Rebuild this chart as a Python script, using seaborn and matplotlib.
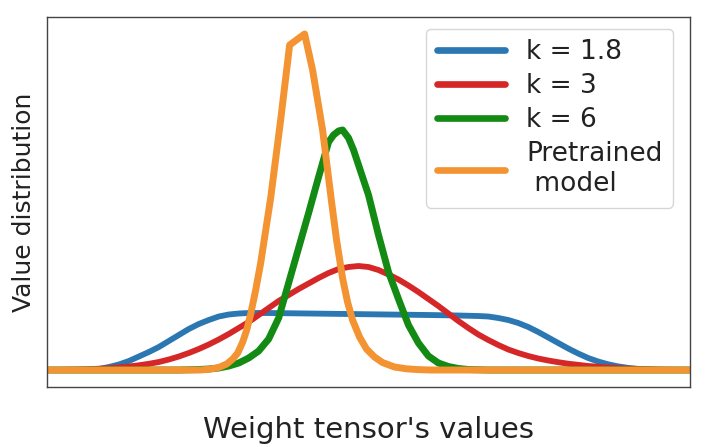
import matplotlib
matplotlib.use("Agg")
import matplotlib.pyplot as plt
import pandas as pd
import seaborn as sns


# Curves (x: weight value, y: distribution, arbitrary units)
k18_x = [-3.22, -2.9, -2.8, -2.7, -2.6, -2.5, -2.4, -2.3, -2.2, -2.1,
         -2.0, -1.9, -1.8, -1.7, -1.6, -1.5, -1.4, -1.3, -1.2, -1.0,
         -0.6, -0.2, 0.2, 0.6, 0.9, 1.1, 1.2, 1.3, 1.4, 1.5,
         1.6, 1.7, 1.8, 1.9, 2.0, 2.1, 2.2, 2.3, 2.4, 2.5,
         2.6, 2.7, 2.8, 2.9, 3.22]
k18_y = [0.00, 0.00, 0.003, 0.01, 0.03, 0.055, 0.09, 0.135, 0.18, 0.23,
         0.29, 0.35, 0.41, 0.46, 0.50, 0.535, 0.555, 0.565, 0.57, 0.57,
         0.565, 0.56, 0.555, 0.55, 0.545, 0.54, 0.535, 0.52, 0.50, 0.47,
         0.43, 0.38, 0.325, 0.27, 0.215, 0.165, 0.12, 0.085, 0.057, 0.036,
         0.021, 0.011, 0.005, 0.001, 0.00]

k3_x = [-3.22, -3.0, -2.8, -2.6, -2.4, -2.3, -2.2, -2.1, -2.0, -1.9,
        -1.8, -1.7, -1.6, -1.5, -1.4, -1.3, -1.2, -1.1, -1.0, -0.9,
        -0.8, -0.7, -0.6, -0.5, -0.4, -0.3, -0.2, -0.1, 0.0, 0.1,
        0.2, 0.3, 0.4, 0.5, 0.6, 0.7, 0.8, 0.9, 1.0, 1.1,
        1.2, 1.3, 1.4, 1.5, 1.6, 1.7, 1.8, 1.9, 2.0, 2.2,
        2.4, 2.6, 2.8, 3.0, 3.22]
k3_y = [0.00, 0.003, 0.008, 0.018, 0.035, 0.047, 0.062, 0.08, 0.105, 0.135,
        0.17, 0.21, 0.255, 0.305, 0.36, 0.42, 0.48, 0.55, 0.62, 0.69,
        0.75, 0.81, 0.865, 0.92, 0.97, 1.01, 1.03, 1.04, 1.03, 1.00,
        0.955, 0.905, 0.845, 0.78, 0.71, 0.64, 0.565, 0.49, 0.42, 0.355,
        0.30, 0.25, 0.205, 0.17, 0.14, 0.115, 0.095, 0.078, 0.063, 0.04,
        0.025, 0.014, 0.007, 0.002, 0.00]

k6_x = [-3.22, -1.9, -1.7, -1.6, -1.5, -1.4, -1.3, -1.2, -1.1, -1.0,
        -0.9, -0.8, -0.7, -0.6, -0.5, -0.4, -0.35, -0.3, -0.26, -0.2,
        -0.15, -0.1, -0.05, 0.0, 0.1, 0.2, 0.3, 0.4, 0.5, 0.6,
        0.7, 0.8, 0.9, 1.0, 1.2, 3.22]
k6_y = [0.00, 0.00, 0.005, 0.01, 0.02, 0.04, 0.07, 0.12, 0.19, 0.31,
        0.52, 0.87, 1.22, 1.57, 1.93, 2.28, 2.35, 2.39, 2.40, 2.32,
        2.20, 2.05, 1.90, 1.75, 1.35, 0.98, 0.71, 0.45, 0.27, 0.14,
        0.07, 0.035, 0.015, 0.005, 0.00, 0.00]

pre_x = [-3.22, -1.80, -1.68, -1.58, -1.50, -1.42, -1.36, -1.31, -1.26, -1.22,
         -1.18, -1.13, -1.08, -0.98, -0.88, -0.79, -0.64, -0.56, -0.46, -0.37,
         -0.32, -0.26, -0.21, -0.16, -0.09, -0.02, 0.06, 0.14, 0.26, 0.38,
         0.50, 0.62, 3.22]
pre_y = [0.00, 0.00, 0.00, 0.01, 0.025, 0.06, 0.11, 0.17, 0.28, 0.40,
         0.56, 0.80, 1.07, 1.72, 2.50, 3.25, 3.36, 3.00, 2.40, 1.68,
         1.30, 0.92, 0.68, 0.50, 0.33, 0.21, 0.13, 0.075, 0.03, 0.012,
         0.004, 0.00, 0.00]

labels = ["k = 1.8", "k = 3", "k = 6", "Pretrained\n model"]
colors = ["#2a77b1", "#d62728", "#138a13", "#f39331"]
widths = [4.2, 4.2, 5.0, 5.0]


sns.set_style("white")
plt.rcParams["font.family"] = ["DejaVu Sans"]

fig = plt.figure(figsize=(7.08, 4.47), dpi=100)
ax = fig.add_axes([0.0664, 0.1342, 0.9082, 0.8278])

all_x = [k18_x, k3_x, k6_x, pre_x]
all_y = [k18_y, k3_y, k6_y, pre_y]

for xs, ys, lab, col, lw in zip(all_x, all_y, labels, colors, widths):
    curve = pd.DataFrame({"x": xs, "y": ys})
    sns.lineplot(
        data=curve,
        x="x",
        y="y",
        color=col,
        linewidth=lw,
        label=lab,
        estimator=None,
        sort=False,
        ax=ax
    )

ax.set_xlim(-3.22, 3.22)
ax.set_ylim(-0.17, 3.53)
ax.set_xticks([])
ax.set_yticks([])

for spine in ax.spines.values():
    spine.set_color("#444444")
    spine.set_linewidth(1.0)

ax.set_xlabel("Weight tensor's values", fontsize=21, labelpad=21, color="#222222")
ax.set_ylabel("Value distribution", fontsize=18, labelpad=8, color="#222222")

leg = ax.legend(
    loc="upper right",
    bbox_to_anchor=(0.974, 0.968),
    borderaxespad=0,
    fontsize=19,
    handlelength=2.6,
    handletextpad=0.8,
    labelspacing=0.3,
    frameon=True
)
for line in leg.get_lines():
    line.set_linewidth(4.8)
for text in leg.get_texts():
    text.set_color("#222222")

fig.savefig("out.png", dpi=100)
plt.close()
